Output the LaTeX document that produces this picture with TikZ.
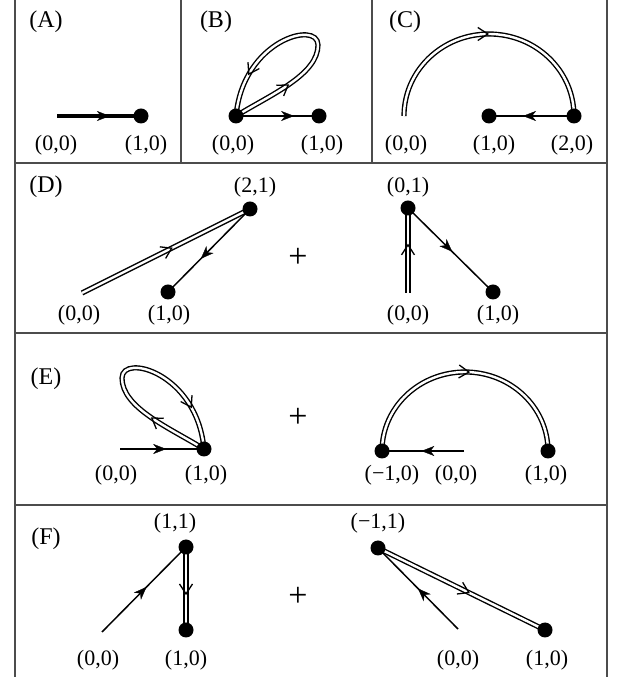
\documentclass[tikz,border=0pt]{standalone}
\usepackage{fontspec}
\setmainfont{Liberation Serif}
\usetikzlibrary{arrows.meta,decorations.markings}
\begin{document}
\begin{tikzpicture}[x=1pt,y=1pt,
  frame/.style={draw=black!70,line width=1.2pt},
  thinln/.style={line width=1.5pt},
  dbl/.style={double,line width=1.4pt,double distance=2.4pt},
  dot/.style={circle,fill=black,inner sep=0pt,minimum size=15pt},
  lab/.style={font=\fontsize{22}{24}\selectfont,inner sep=0pt},
  head/.style={font=\fontsize{24}{26}\selectfont,inner sep=0pt},
  plussign/.style={font=\fontsize{34}{36}\selectfont,inner sep=0pt},
  sarr/.style={postaction={decorate,decoration={markings,mark=at position #1 with {\arrow{Stealth[length=13pt,width=10pt,inset=4pt,line width=0.3pt]}}}}},
  barb/.style={decorate,decoration={markings,mark=at position #1 with {\arrow{Straight Barb[length=10pt,width=13pt,line width=1.3pt]}}}}
]
\useasboundingbox (0,0) rectangle (620,677);
% frame
\draw[frame] (15,0) -- (15,677);
\draw[frame] (607,0) -- (607,677);
\draw[frame] (15,514) -- (607,514);
\draw[frame] (15,344) -- (607,344);
\draw[frame] (15,172) -- (607,172);
\draw[frame] (181,514) -- (181,677);
\draw[frame] (372,514) -- (372,677);

% ---------- Panel A
\coordinate (a0) at (57,561);
\coordinate (a1) at (141,561);
\draw[line width=3.8pt,sarr=0.63] (a0) -- (a1);
\node[dot] (A1) at (a1) {};
\node[lab] (la0) at (56,532) {(0,0)};
\node[lab] (la1) at (146,532) {(1,0)};
\node[head] (hA) at (46,655) {(A)};

% ---------- Panel B
\coordinate (bO) at (236,561);
\coordinate (bR) at (318,632);
\coordinate (b1) at (319,561);
\draw[dbl] (bO) .. controls (270,582) and (318,602) .. (bR) .. controls (318,657) and (243,637) .. (bO);
\path[barb=0.55] (bO) .. controls (270,582) and (318,602) .. (bR);
\path[barb=0.68] (bR) .. controls (318,657) and (243,637) .. (bO);
\draw[thinln,sarr=0.7] (bO) -- (b1);
\node[dot] (BO) at (bO) {};
\node[dot] (B1) at (b1) {};
\node[lab] (lb0) at (233,532) {(0,0)};
\node[lab] (lb1) at (322,532) {(1,0)};
\node[head] (hB) at (216,655) {(B)};

% ---------- Panel C
\coordinate (cS) at (404,561);
\coordinate (c1) at (489,561);
\coordinate (c2) at (574,561);
\draw[dbl] (cS) arc[start angle=180,end angle=0,x radius=85,y radius=82];
\path[barb=0.5] (cS) arc[start angle=180,end angle=0,x radius=85,y radius=82];
\draw[thinln,sarr=0.6] (c2) -- (c1);
\node[dot] (C1) at (c1) {};
\node[dot] (C2) at (c2) {};
\node[lab] (lc0) at (406,532) {(0,0)};
\node[lab] (lc1) at (494,532) {(1,0)};
\node[lab] (lc2) at (572,532) {(2,0)};
\node[head] (hC) at (405,655) {(C)};

% ---------- Panel D
\node[head] (hD) at (46,490) {(D)};
\coordinate (dO) at (82,384);
\coordinate (d21) at (250,468);
\coordinate (d10) at (168,385);
\draw[dbl] (dO) -- (d21);
\path[barb=0.54] (dO) -- (d21);
\draw[thinln,sarr=0.6] (d21) -- (d10);
\node[dot] (D21) at (d21) {};
\node[dot] (D10) at (d10) {};
\node[lab] (ld0) at (79,362) {(0,0)};
\node[lab] (ld1) at (169,362) {(1,0)};
\node[lab] (ld21) at (255,490) {(2,1)};
\node[plussign] (pD) at (298,419) {+};
\coordinate (dO2) at (408,384);
\coordinate (d01) at (408,469);
\coordinate (d10b) at (493,385);
\draw[dbl] (dO2) -- (d01);
\path[barb=0.58] (dO2) -- (d01);
\draw[thinln,sarr=0.52] (d01) -- (d10b);
\node[dot] (D01) at (d01) {};
\node[dot] (D10b) at (d10b) {};
\node[lab] (ld01) at (408,490) {(0,1)};
\node[lab] (ld0b) at (408,362) {(0,0)};
\node[lab] (ld1b) at (498,362) {(1,0)};

% ---------- Panel E
\node[head] (hE) at (46,298) {(E)};
\coordinate (eO) at (120,228);
\coordinate (eP) at (204,228);
\coordinate (eT) at (122,299);
\draw[thinln,sarr=0.55] (eO) -- (eP);
\draw[dbl] (eP) .. controls (170,249) and (122,269) .. (eT) .. controls (122,324) and (197,304) .. (eP);
\path[barb=0.55] (eP) .. controls (170,249) and (122,269) .. (eT);
\path[barb=0.68] (eT) .. controls (122,324) and (197,304) .. (eP);
\node[dot] (EP) at (eP) {};
\node[lab] (le0) at (116,202) {(0,0)};
\node[lab] (le1) at (206,202) {(1,0)};
\node[plussign] (pE) at (298,259) {+};
\coordinate (eL) at (382,226);
\coordinate (eO2) at (464,226);
\coordinate (eR) at (548,226);
\draw[dbl] (eL) arc[start angle=180,end angle=0,x radius=83,y radius=79];
\path[barb=0.52] (eL) arc[start angle=180,end angle=0,x radius=83,y radius=79];
\draw[thinln,sarr=0.52] (eO2) -- (eL);
\node[dot] (EL) at (eL) {};
\node[dot] (ER) at (eR) {};
\node[lab] (lem) at (392,202) {(−1,0)};
\node[lab] (le0b) at (456,202) {(0,0)};
\node[lab] (le1b) at (546,202) {(1,0)};

% ---------- Panel F
\node[head] (hF) at (46,138) {(F)};
\coordinate (fO) at (102,45);
\coordinate (f11) at (186,130);
\coordinate (f10) at (186,47);
\draw[thinln,sarr=0.53] (fO) -- (f11);
\draw[dbl] (f11) -- (f10);
\path[barb=0.58] (f11) -- (f10);
\node[dot] (F11) at (f11) {};
\node[dot] (F10) at (f10) {};
\node[lab] (lf11) at (175,154) {(1,1)};
\node[lab] (lf0) at (98,17) {(0,0)};
\node[lab] (lf1) at (186,17) {(1,0)};
\node[plussign] (pF) at (298,80) {+};
\coordinate (fO2) at (458,48);
\coordinate (fm11) at (378,129);
\coordinate (f10b) at (545,47);
\draw[thinln,sarr=0.5] (fO2) -- (fm11);
\draw[dbl] (fm11) -- (f10b);
\path[barb=0.55] (fm11) -- (f10b);
\node[dot] (Fm11) at (fm11) {};
\node[dot] (F10b) at (f10b) {};
\node[lab] (lfm) at (378,154) {(−1,1)};
\node[lab] (lf0b) at (458,17) {(0,0)};
\node[lab] (lf1b) at (547,17) {(1,0)};
\end{tikzpicture}
\end{document}
